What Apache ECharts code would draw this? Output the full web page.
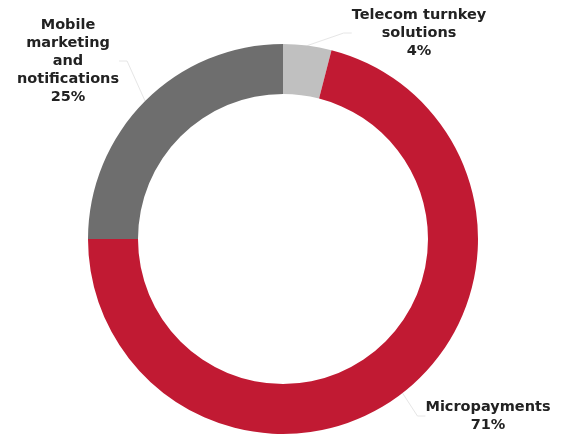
<!DOCTYPE html>
<html>
<head>
<meta charset="utf-8">
<script src="https://cdn.jsdelivr.net/npm/echarts@6/dist/echarts.min.js"></script>
<style>
  html, body { margin: 0; padding: 0; background: #fff; }
  #chart { width: 564px; height: 435px; }
</style>
</head>
<body>
<div id="chart"></div>
<script>
// Revenue split by business line (share of total, %)
const categories = ['Telecom turnkey\nsolutions', 'Micropayments', 'Mobile\nmarketing\nand\nnotifications'];
const shares = [4, 71, 25];
const colors = ['#c0c0c0', '#c11a33', '#6e6e6e'];

// Where each slice's label block sits (centre of the text block)
const labelSpots = [
  { x: 419, y: 33 },
  { x: 488, y: 416 },
  { x: 68, y: 61 }
];

const chart = echarts.init(document.getElementById('chart'));
chart.setOption({
  backgroundColor: '#ffffff',
  animation: false,
  series: [{
    type: 'pie',
    center: [283, 239],
    radius: [145, 195],
    startAngle: 90,
    clockwise: true,
    avoidLabelOverlap: false,
    data: categories.map((name, i) => ({
      name: name,
      value: shares[i],
      itemStyle: { color: colors[i] }
    })),
    label: {
      show: true,
      position: 'outside',
      formatter: p => p.name + '\n' + p.value + '%',
      fontFamily: '"DejaVu Sans", Verdana, sans-serif',
      fontWeight: 'bold',
      fontSize: 14.5,
      lineHeight: 18,
      color: '#222222',
      align: 'center'
    },
    labelLine: {
      show: true,
      length: 8,
      length2: 8,
      lineStyle: { color: '#e6e6e6', width: 1 }
    },
    labelLayout: function (params) {
      const s = labelSpots[params.dataIndex];
      return { x: s.x, y: s.y, align: 'center', verticalAlign: 'middle' };
    },
    emphasis: { disabled: true }
  }]
});
</script>
</body>
</html>
